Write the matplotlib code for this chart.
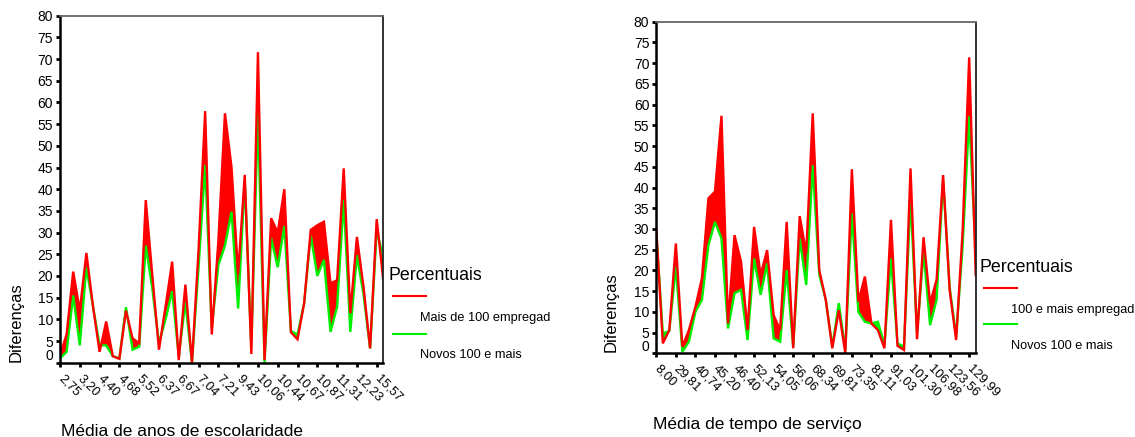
import matplotlib
matplotlib.use("Agg")
import matplotlib.pyplot as plt
import numpy as np

plt.rcParams['font.family'] = ['Liberation Sans', 'DejaVu Sans']

# ---------------- data ----------------
left_tick_labels = ['2,75', '3,20', '4,40', '4,68', '5,52', '6,37', '6,67', '7,04', '7,21',
                    '9,43', '10,06', '10,44', '10,67', '10,87', '11,31', '12,23', '15,57']
left_red = [1.8, 6.5, 21.0, 12.0, 25.3, 13.0, 2.5, 9.5, 1.5, 0.9,
            12.0, 5.6, 4.5, 37.5, 20.0, 3.0, 13.0, 23.3, 0.6, 18.0,
            0.0, 26.0, 58.0, 6.5, 28.0, 57.5, 45.0, 20.5, 43.3, 2.0,
            71.6, 0.6, 33.3, 30.0, 40.0, 7.0, 5.4, 13.7, 30.6, 31.7,
            32.5, 18.3, 19.0, 44.8, 11.4, 29.0, 17.5, 3.3, 33.1, 19.0]
left_green = [1.0, 2.5, 15.5, 4.0, 22.0, 13.0, 4.0, 4.0, 1.5, 1.0,
              12.8, 3.0, 3.7, 27.0, 17.0, 4.5, 10.0, 16.5, 1.4, 14.0,
              0.0, 22.0, 45.6, 8.0, 22.5, 27.0, 34.8, 12.5, 42.0, 3.5,
              57.5, 0.0, 28.7, 22.0, 31.5, 7.3, 6.5, 13.7, 29.4, 20.0,
              23.7, 7.1, 12.9, 37.5, 7.1, 24.8, 15.7, 3.3, 30.6, 24.1]

right_tick_labels = ['8,00', '29,81', '40,74', '45,20', '46,40', '52,13', '54,05', '56,06',
                     '68,34', '69,81', '73,35', '81,11', '91,03', '101,30', '106,98',
                     '123,56', '129,99']
right_red = [30.0, 2.4, 5.6, 26.5, 1.6, 5.6, 11.2, 18.1, 37.4, 39.0,
             57.3, 7.2, 28.5, 22.1, 5.6, 30.5, 18.9, 24.9, 9.2, 5.6,
             31.7, 1.2, 33.1, 24.1, 57.9, 20.1, 12.9, 1.2, 10.4, 0.0,
             44.4, 12.5, 18.5, 7.2, 5.6, 1.2, 32.2, 1.8, 0.8, 44.6,
             3.4, 28.0, 12.1, 17.7, 43.0, 15.3, 3.2, 29.7, 71.4, 18.9]
right_green = [29.0, 4.8, 5.4, 20.9, 0.4, 2.8, 10.0, 12.9, 26.1, 31.7,
               27.7, 6.0, 14.5, 15.3, 3.2, 22.9, 14.1, 21.7, 3.6, 2.8,
               20.1, 1.6, 27.7, 16.5, 45.4, 19.0, 12.9, 1.6, 12.1, 0.8,
               33.8, 10.0, 7.6, 7.2, 7.6, 2.0, 22.9, 2.4, 1.6, 37.4,
               4.8, 24.5, 6.8, 12.9, 42.0, 16.0, 4.0, 26.0, 57.2, 24.0]

yticks = list(range(0, 85, 5))

W, H = 1135, 437
fig = plt.figure(figsize=(W / 100, H / 100), dpi=100)

RED = '#ff0000'
GREEN = '#00ee00'


def px_axes(x0, y0, x1, y1):
    return fig.add_axes([x0 / W, 1 - y1 / H, (x1 - x0) / W, (y1 - y0) / H])


def draw_panel(ax, red, green, labels, xtitle, xtitle_x, xtitle_y, ylab_x, ylab_y,
               leg_x, leg_y, leg_items):
    red = np.array(red)
    green = np.array(green)
    x = np.arange(len(red))
    ax.fill_between(x, green, red, where=red >= green, interpolate=True,
                    color=RED, linewidth=0)
    ax.fill_between(x, green, red, where=green > red, interpolate=True,
                    color=GREEN, linewidth=0)
    ax.plot(x, green, color=GREEN, lw=1.7, solid_joinstyle='miter')
    ax.plot(x, red, color=RED, lw=1.7, solid_joinstyle='miter')
    ax.set_xlim(0, len(red) - 1)
    ax.set_ylim(0, 80)
    ax.set_yticks(yticks)
    ylabels = [str(v) for v in yticks]
    ylabels[0] = ''
    ax.set_yticklabels(ylabels, fontsize=10)
    ax.annotate('0', xy=(0, 0), xycoords=('axes fraction', 'data'),
                xytext=(-5, 4.8), textcoords='offset points',
                ha='right', va='center', fontsize=10)
    ticks = np.arange(0, len(red), 3)
    ax.set_xticks(ticks)
    ax.set_xticklabels(labels, rotation=-45, ha='left', va='center',
                       rotation_mode='anchor', fontsize=9.3)
    ax.tick_params(axis='both', direction='out', length=3, width=2, color='black')
    ax.tick_params(axis='y', pad=2)
    ax.tick_params(axis='x', pad=7)
    for s in ['left', 'bottom']:
        ax.spines[s].set_linewidth(1.8)
        ax.spines[s].set_color('black')
    ax.spines['top'].set_linewidth(1.3)
    ax.spines['top'].set_color('#666666')
    ax.spines['right'].set_linewidth(1.3)
    ax.spines['right'].set_color('#222222')
    fig.text(xtitle_x / W, 1 - xtitle_y / H, xtitle, ha='center', va='center',
             fontsize=12.5)
    fig.text(ylab_x / W, 1 - ylab_y / H, 'Diferenças', rotation=90,
             ha='center', va='center', fontsize=12)
    # legend
    fig.text(leg_x / W, 1 - leg_y / H, 'Percentuais', ha='left', va='center',
             fontsize=12.8)
    for (ly, ty, col, txt) in leg_items:
        fig.add_artist(plt.Line2D([(leg_x + 4.5) / W, (leg_x + 37.5) / W],
                                  [1 - ly / H, 1 - ly / H], color=col, lw=1.5))
        fig.text((leg_x + 31.5) / W, 1 - ty / H, txt, ha='left', va='center',
                 fontsize=9.2)


ax1 = px_axes(60, 15.7, 383.3, 362.7)
draw_panel(ax1, left_red, left_green, left_tick_labels,
           'Média de anos de escolaridade', 182, 431, 16, 322,
           388, 276,
           [(296, 318, RED, 'Mais de 100 empregad'),
            (334, 355, GREEN, 'Novos 100 e mais')])

ax2 = px_axes(656.3, 21.7, 975.7, 353.3)
draw_panel(ax2, right_red, right_green, right_tick_labels,
           'Média de tempo de serviço', 757, 424, 611, 312,
           979.5, 267.7,
           [(288.3, 310, RED, '100 e mais empregad'),
            (324, 345.7, GREEN, 'Novos 100 e mais')])

fig.savefig('out.png', dpi=100, facecolor='white')
